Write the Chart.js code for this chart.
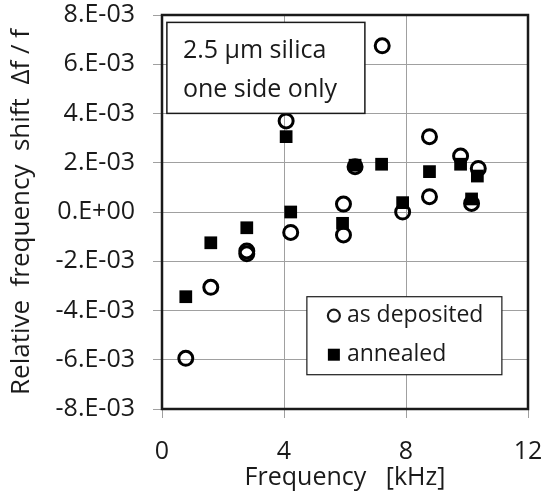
<!DOCTYPE html>
<html lang="en">
<head>
	<meta charset="UTF-8">
	<title>Relative frequency shift</title>
	<script src="https://cdn.jsdelivr.net/npm/chart.js"></script>
	<style>
		body { margin: 0; background: #fff; }
		#wrap { width: 543px; height: 499px; }
	</style>
</head>
<body>
	<div id="wrap">
		<canvas id="shiftChart" width="543" height="499"></canvas>
	</div>

	<script type="text/javascript">
		// as deposited (open circles)
		var depFreq  = [0.78, 1.60, 2.78, 2.78, 4.07, 4.22, 5.95, 5.95, 6.33, 7.22, 7.89, 8.77, 8.77, 9.79, 10.15, 10.37];
		var depShift = [-5.94e-3, -3.06e-3, -1.58e-3, -1.70e-3, 3.70e-3, -0.83e-3, 0.32e-3, -0.93e-3, 1.84e-3, 6.75e-3, 0.0, 3.06e-3, 0.62e-3, 2.27e-3, 0.35e-3, 1.77e-3];

		// annealed (filled squares)
		var annFreq  = [0.78, 1.60, 2.78, 4.07, 4.22, 5.92, 6.33, 7.20, 7.89, 8.77, 9.79, 10.15, 10.34];
		var annShift = [-3.44e-3, -1.25e-3, -0.64e-3, 3.06e-3, 0.0, -0.46e-3, 1.90e-3, 1.94e-3, 0.38e-3, 1.64e-3, 1.94e-3, 0.53e-3, 1.46e-3];

		var seriesNames = ['as deposited', 'annealed'];
		var yTickValues = [-8e-3, -6e-3, -4e-3, -2e-3, 0, 2e-3, 4e-3, 6e-3, 8e-3];
		var yTickLabels = ['-8.E-03', '-6.E-03', '-4.E-03', '-2.E-03', '0.E+00', '2.E-03', '4.E-03', '6.E-03', '8.E-03'];
		var xTickLabels = ['0', '4', '8', '12'];
		var noteLines = ['2.5 \u00b5m silica', 'one side only'];

		function toPoints(xs, ys) {
			var pts = [];
			for (let i = 0; i < xs.length; i++) pts.push({ x: xs[i], y: ys[i] });
			return pts;
		}

		// keep the plot area where the layout padding says
		function noLabelPadding(scale) {
			scale.paddingTop = 0;
			scale.paddingBottom = 0;
			scale.paddingLeft = 0;
			scale.paddingRight = 0;
		}

		Chart.defaults.font.family = "'Open Sans', sans-serif";
		Chart.defaults.color = '#1a1a1a';

		// frame round the plot area
		var framePlugin = {
			id: 'frame',
			beforeDatasetsDraw: function (chart) {
				var a = chart.chartArea, c = chart.ctx;
				c.save();
				c.strokeStyle = '#1a1a1a';
				c.lineWidth = 2.5;
				c.strokeRect(a.left, a.top, a.right - a.left, a.bottom - a.top);
				c.restore();
			}
		};

		// text note and legend boxes inside the plot
		var boxesPlugin = {
			id: 'boxes',
			afterDatasetsDraw: function (chart) {
				var c = chart.ctx;
				var xs = chart.scales.x, ys = chart.scales.y;
				c.save();

				// note box
				var bx = xs.getPixelForValue(0.16), by = ys.getPixelForValue(7.7e-3);
				var bw = 198, bh = 91;
				c.fillStyle = '#fff';
				c.fillRect(bx, by, bw, bh);
				c.strokeStyle = '#1a1a1a';
				c.lineWidth = 1.5;
				c.strokeRect(bx, by, bw, bh);
				c.fillStyle = '#1a1a1a';
				c.font = "25px 'Open Sans'";
				c.textBaseline = 'middle';
				c.textAlign = 'left';
				c.fillText(noteLines[0], bx + 16, by + 28);
				c.fillText(noteLines[1], bx + 16, by + 67);

				// legend box
				var lx = xs.getPixelForValue(4.75), ly = ys.getPixelForValue(-3.44e-3);
				var lw = 195, lh = 78;
				c.fillStyle = '#fff';
				c.fillRect(lx, ly, lw, lh);
				c.strokeStyle = '#1a1a1a';
				c.lineWidth = 1.2;
				c.strokeRect(lx, ly, lw, lh);

				var mx = lx + 27;
				c.beginPath();
				c.arc(mx, ly + 19, 6, 0, Math.PI * 2);
				c.lineWidth = 2.2;
				c.stroke();
				c.fillStyle = '#000';
				c.fillRect(mx - 6, ly + 52, 12, 12);

				c.fillStyle = '#1a1a1a';
				c.font = "23px 'Open Sans'";
				c.fillText(seriesNames[0], lx + 40, ly + 19);
				c.fillText(seriesNames[1], lx + 40, ly + 58);
				c.restore();
			}
		};

		var ctx = document.getElementById('shiftChart').getContext('2d');
		var myChart = new Chart(ctx, {
			type: 'scatter',
			data: {
				datasets: [{
					label: seriesNames[1],
					data: toPoints(annFreq, annShift),
					pointStyle: 'rect',
					pointRadius: 9,
					pointHoverRadius: 9,
					backgroundColor: '#000',
					borderColor: '#000',
					borderWidth: 0
				}, {
					label: seriesNames[0],
					data: toPoints(depFreq, depShift),
					pointStyle: 'circle',
					pointRadius: 7,
					pointHoverRadius: 7,
					backgroundColor: 'rgba(0,0,0,0)',
					borderColor: '#000',
					borderWidth: 3
				}]
			},
			options: {
				responsive: false,
				animation: false,
				events: [],
				layout: { padding: { top: 15, right: 15, left: 0, bottom: 0 } },
				plugins: {
					legend: { display: false },
					tooltip: { enabled: false }
				},
				scales: {
					x: {
						type: 'linear',
						min: 0,
						max: 12,
						afterFit: function (scale) { scale.height = 90; noLabelPadding(scale); },
						afterBuildTicks: function (scale) {
							scale.ticks = xTickLabels.map(function (t) { return { value: Number(t) }; });
						},
						ticks: {
							font: { size: 25 },
							padding: 19,
							maxRotation: 0,
							callback: function (v, i) { return xTickLabels[i]; }
						},
						grid: { color: '#a0a0a0', lineWidth: 1, tickLength: 9 },
						border: { display: false },
						title: {
							display: true,
							text: 'Frequency   [kHz]',
							font: { size: 25 },
							padding: { top: 0, bottom: 6 }
						}
					},
					y: {
						type: 'linear',
						min: -8e-3,
						max: 8e-3,
						afterFit: function (scale) { scale.width = 162; noLabelPadding(scale); },
						afterBuildTicks: function (scale) {
							scale.ticks = yTickValues.map(function (v) { return { value: v }; });
						},
						ticks: {
							font: { size: 25 },
							padding: 18,
							callback: function (v, i) { return yTickLabels[i]; }
						},
						grid: { color: '#a0a0a0', lineWidth: 1, tickLength: 9 },
						border: { display: false },
						title: {
							display: true,
							text: 'Relative  frequency  shift  \u0394f / f',
							font: { size: 26 },
							padding: { top: 6, bottom: 0 }
						}
					}
				}
			},
			plugins: [framePlugin, boxesPlugin]
		});
	</script>
</body>
</html>
